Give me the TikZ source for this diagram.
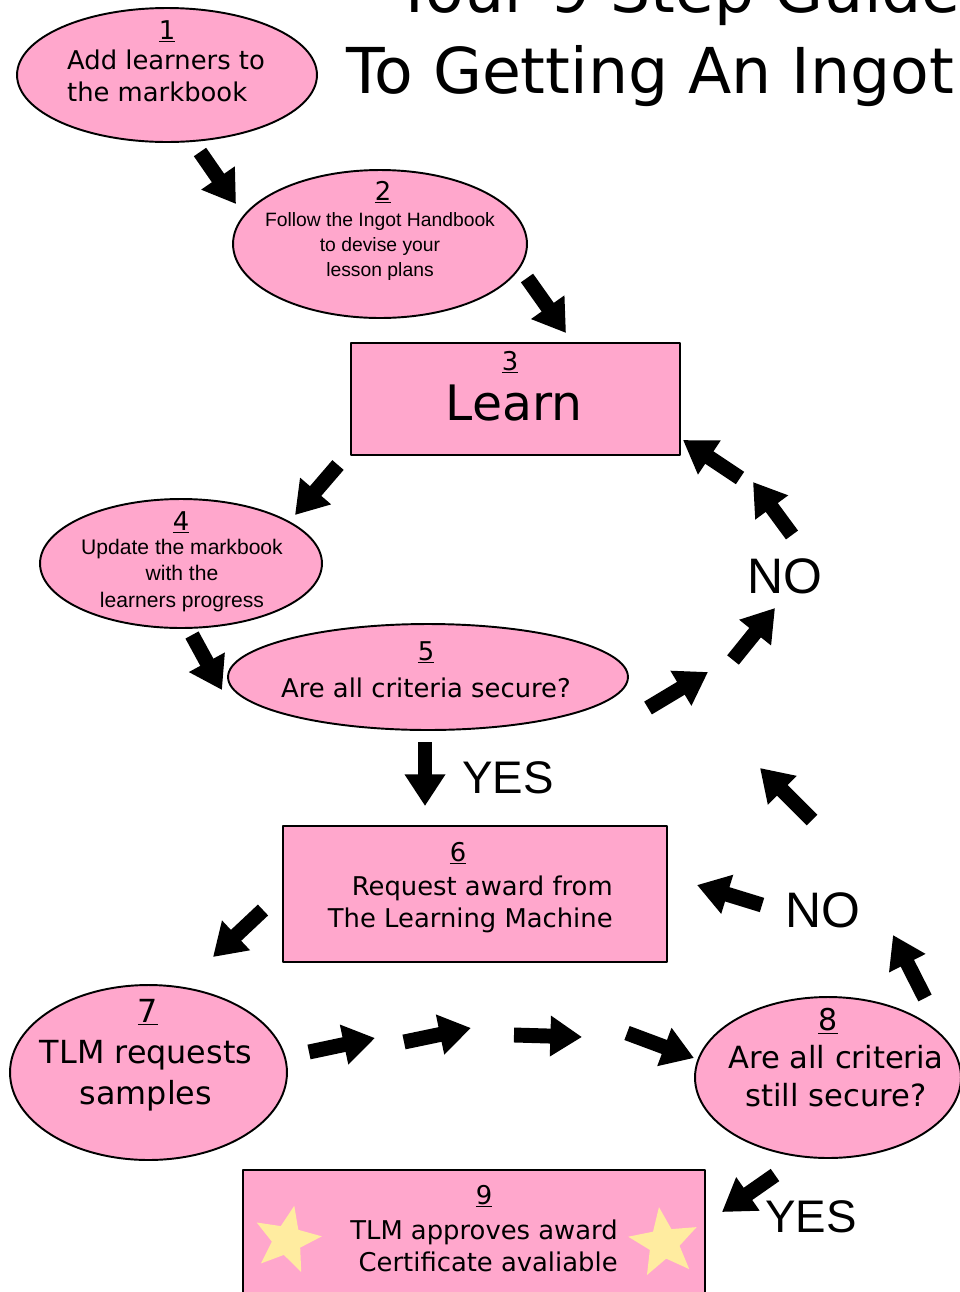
\documentclass[tikz,border=0pt]{standalone}
\usepackage{fontspec}
\setmainfont{DejaVu Sans}
\newfontfamily\arialfont{Liberation Sans}
\usetikzlibrary{shapes.geometric,arrows.meta}
\definecolor{steppink}{RGB}{255,167,204}
\definecolor{starfill}{RGB}{255,236,160}
\begin{document}
\begin{tikzpicture}[x=0.02cm, y=-0.02cm, line join=round, >=Triangle,
    stepellipse/.style={ellipse, draw, line width=1.1pt, fill=steppink, inner sep=0pt},
    stepbox/.style={rectangle, draw, line width=1.1pt, fill=steppink, inner sep=0pt},
    numtext/.style={anchor=base, inner sep=0pt, font=\fontsize{14.7}{17}\selectfont},
    bodytext/.style={anchor=base, inner sep=0pt, align=center, font=\fontsize{14.7}{18}\selectfont},
    fatarrow/.style={line width=8.5pt, -{Triangle[length=18pt,width=22pt]}},
    answer/.style={inner sep=0pt, font=\arialfont\fontsize{28.4}{30}\selectfont}]
  \useasboundingbox (0,0) rectangle (960,1292);

  \node[anchor=base west, inner sep=0pt, font=\fontsize{36}{46}\selectfont] (title-a) at (395,12) {Your 9 Step Guide};
  \node[anchor=base west, inner sep=0pt, font=\fontsize{36}{46}\selectfont] (title-b) at (346,93) {To Getting An Ingot};

  \node[stepellipse, minimum width=6cm, minimum height=2.68cm] (s1) at (167,75) {};
  \node[numtext] (n1) at (167,39) {\underline{1}};
  \node[bodytext, align=left] (b1) at (166,101) {Add learners to\\the markbook};

  \node[stepellipse, minimum width=5.88cm, minimum height=2.96cm] (s2) at (380,244) {};
  \node[numtext] (n2) at (383,200) {\underline{2}};
  \node[bodytext, font=\arialfont\fontsize{11}{14.2}\selectfont] (b2) at (380,276) {Follow the Ingot Handbook\\to devise your\\lesson plans};

  \node[stepbox, minimum width=6.58cm, minimum height=2.24cm] (s3) at (515.5,399) {};
  \node[numtext] (n3) at (510,370) {\underline{3}};
  \node[bodytext, font=\fontsize{27.8}{30}\selectfont] (b3) at (514,420) {Learn};

  \node[stepellipse, minimum width=5.64cm, minimum height=2.58cm] (s4) at (181,563.5) {};
  \node[numtext] (n4) at (181,530) {\underline{4}};
  \node[bodytext, font=\arialfont\fontsize{12}{15}\selectfont] (b4) at (182,607) {Update the markbook\\with the\\learners progress};

  \node[stepellipse, minimum width=8cm, minimum height=2.12cm] (s5) at (428,677) {};
  \node[numtext] (n5) at (426,660) {\underline{5}};
  \node[bodytext] (b5) at (426,697) {Are all criteria secure?};

  \node[stepbox, minimum width=7.68cm, minimum height=2.72cm] (s6) at (475,894) {};
  \node[numtext] (n6) at (458,861) {\underline{6}};
  \node[bodytext, align=right, anchor=base east] (b6) at (613,927) {Request award from\\The Learning Machine};

  \node[stepellipse, minimum width=5.54cm, minimum height=3.5cm] (s7) at (148.5,1072.5) {};
  \node[numtext, font=\fontsize{18.1}{20}\selectfont] (n7) at (148,1022) {\underline{7}};
  \node[bodytext, font=\fontsize{18.1}{23.2}\selectfont] (b7) at (146,1104) {TLM requests\\samples};

  \node[stepellipse, minimum width=5.32cm, minimum height=3.22cm] (s8) at (828,1077.5) {};
  \node[numtext, font=\fontsize{17.1}{20}\selectfont] (n8) at (828,1030) {\underline{8}};
  \node[bodytext, font=\fontsize{17.4}{21.5}\selectfont] (b8) at (836,1106) {Are all criteria\\still secure?};

  \node[stepbox, minimum width=9.24cm, minimum height=2.8cm] (s9) at (474,1240) {};
  \node[star, star points=5, star point ratio=2.3, fill=starfill, minimum size=1.4cm, inner sep=0pt, rotate=-12] (star-l) at (287,1240) {};
  \node[star, star points=5, star point ratio=2.3, fill=starfill, minimum size=1.45cm, inner sep=0pt, rotate=8] (star-r) at (664,1243) {};
  \node[numtext] (n9) at (484,1204) {\underline{9}};
  \node[bodytext, align=right, anchor=base east] (b9) at (618,1271) {TLM approves award\\Certificate avaliable};

  \node[answer] (no-a) at (785,576) {NO};
  \node[answer, font=\arialfont\fontsize{26}{28}\selectfont] (yes-a) at (508,778) {YES};
  \node[answer] (no-b) at (823,910) {NO};
  \node[answer, font=\arialfont\fontsize{26}{28}\selectfont] (yes-b) at (811,1217) {YES};

  \coordinate (a1-t) at (200,152); \coordinate (a1-h) at (236,204);
  \coordinate (a2-t) at (527,278); \coordinate (a2-h) at (566,333);
  \coordinate (a3-t) at (338,465); \coordinate (a3-h) at (295,515);
  \coordinate (a4-t) at (192,635); \coordinate (a4-h) at (222,690);
  \coordinate (a5-t) at (425,742); \coordinate (a5-h) at (425,806);
  \coordinate (a6-t) at (648,708); \coordinate (a6-h) at (708,672);
  \coordinate (a7-t) at (733,660); \coordinate (a7-h) at (775,608);
  \coordinate (a8-t) at (792,535); \coordinate (a8-h) at (753,482);
  \coordinate (a9-t) at (740,478); \coordinate (a9-h) at (683,440);
  \coordinate (a10-t) at (812,820); \coordinate (a10-h) at (760,768);
  \coordinate (a11-t) at (925,998); \coordinate (a11-h) at (893,935);
  \coordinate (a12-t) at (762,905); \coordinate (a12-h) at (697,885);
  \coordinate (a13-t) at (263,910); \coordinate (a13-h) at (213,957);
  \coordinate (a14-t) at (309,1052); \coordinate (a14-h) at (375,1038);
  \coordinate (a15-t) at (404,1042); \coordinate (a15-h) at (471,1028);
  \coordinate (a16-t) at (514,1035); \coordinate (a16-h) at (582,1037);
  \coordinate (a17-t) at (627,1033); \coordinate (a17-h) at (694,1058);
  \coordinate (a18-t) at (775,1175); \coordinate (a18-h) at (722,1212);

  \foreach \i in {1,...,18}
    \draw[fatarrow] (a\i-t) -- (a\i-h);
\end{tikzpicture}
\end{document}
